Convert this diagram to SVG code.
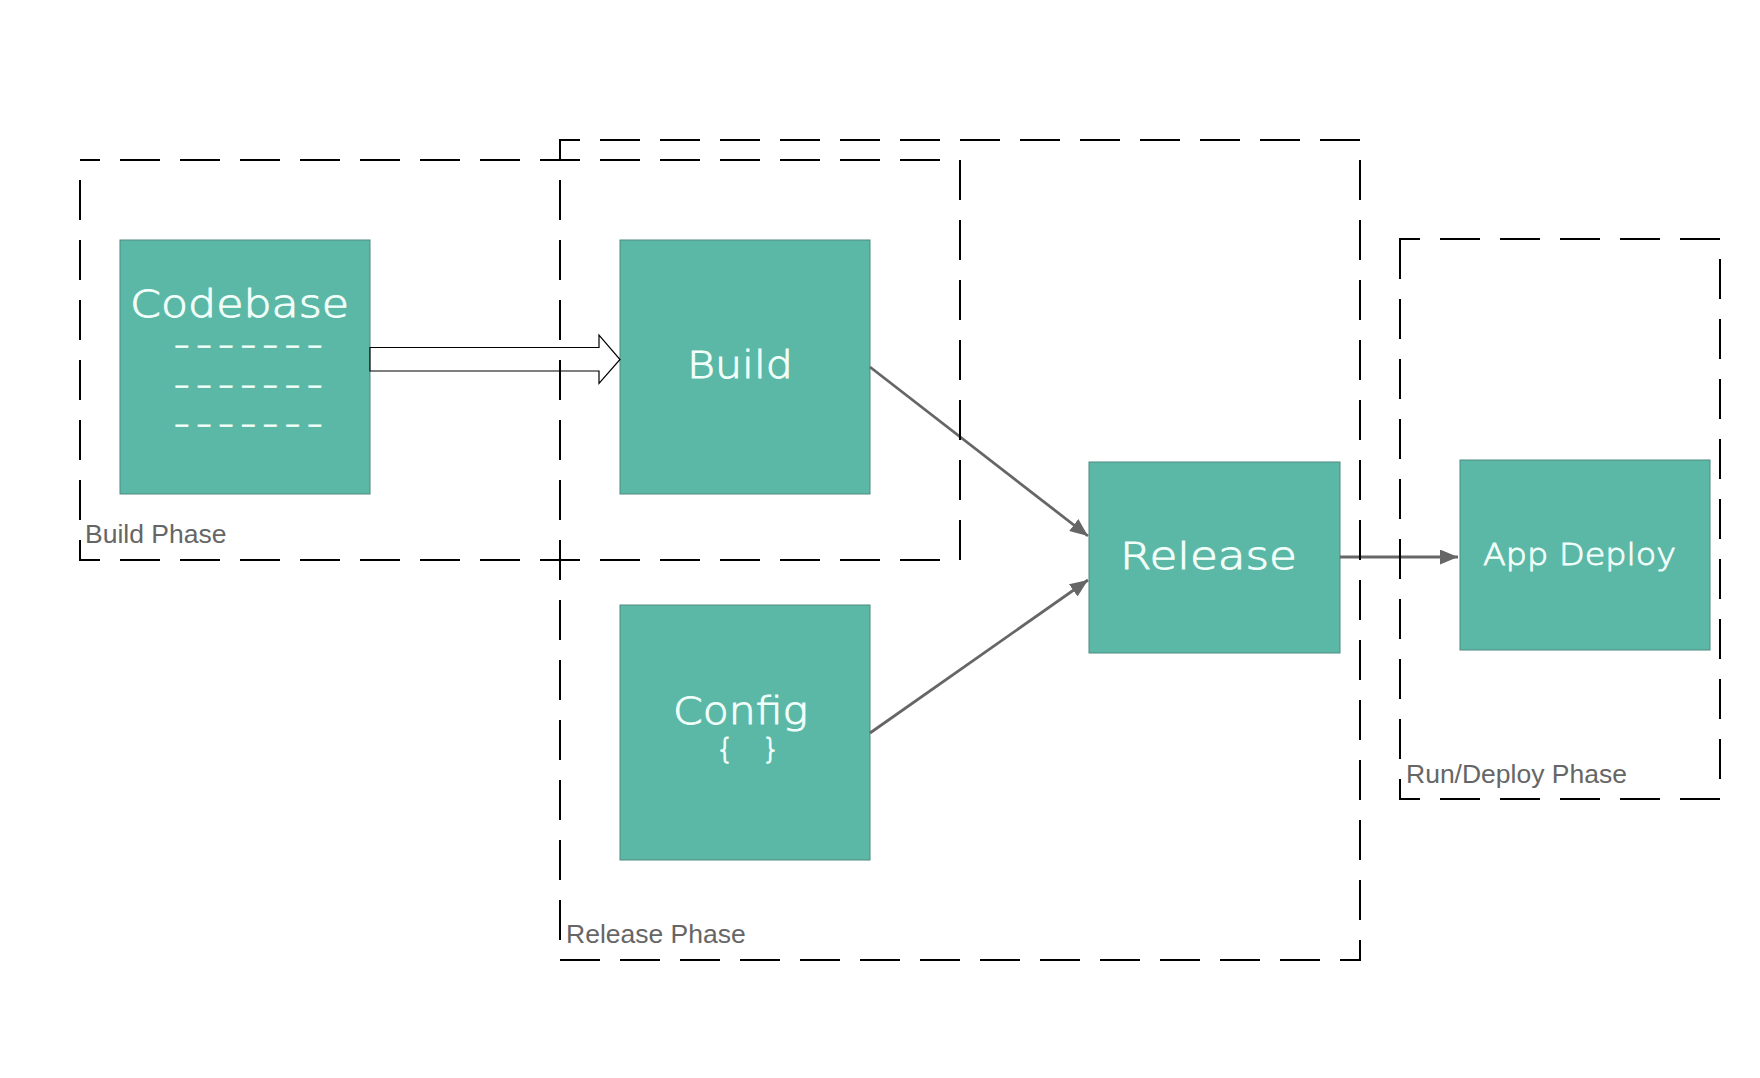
<svg xmlns="http://www.w3.org/2000/svg" width="1760" height="1078" viewBox="0 0 1760 1078">
  <style>
    .node { fill: #5cb8a6; stroke: #4e8a80; stroke-width: 1; }
    .ntext { font-family: "DejaVu Sans", "Liberation Sans", sans-serif; fill: #f2fffa; stroke: #f2fffa; stroke-width: 0.9; font-weight: 200; }
    .dash { stroke-width: 1.1; font-size: 32px; }
    .phase { fill: none; stroke: #000; stroke-width: 2; stroke-dasharray: 40 20; stroke-dashoffset: 20; }
    .plabel { font-family: "Liberation Sans", Arial, sans-serif; font-size: 26.5px; fill: #666; }
    .conn { stroke: #666; stroke-width: 2.8; fill: none; }
  </style>
  <defs>
    <marker id="arr" markerUnits="userSpaceOnUse" markerWidth="19" markerHeight="15" refX="18" refY="7.5" orient="auto">
      <path d="M0,0 L18,7.5 L0,15 z" fill="#666"/>
    </marker>
  </defs>
  <rect width="1760" height="1078" fill="#fff"/>

  <g id="node-codebase">
    <rect class="node" x="120" y="240" width="250" height="254"/>
    <text class="ntext" x="130" y="317" font-size="37" textLength="219" lengthAdjust="spacingAndGlyphs">Codebase</text>
    <text class="ntext dash" transform="translate(174,355) scale(1.35,1)" textLength="110" lengthAdjust="spacing">-------</text>
    <text class="ntext dash" transform="translate(174,395) scale(1.35,1)" textLength="110" lengthAdjust="spacing">-------</text>
    <text class="ntext dash" transform="translate(174,434) scale(1.35,1)" textLength="110" lengthAdjust="spacing">-------</text>
  </g>
  <g id="node-build">
    <rect class="node" x="620" y="240" width="250" height="254"/>
    <text class="ntext" x="687" y="378" font-size="37" textLength="106" lengthAdjust="spacingAndGlyphs">Build</text>
  </g>
  <g id="node-config">
    <rect class="node" x="620" y="605" width="250" height="255"/>
    <text class="ntext" x="673" y="724" font-size="37" textLength="135" lengthAdjust="spacingAndGlyphs">Config</text>
    <text class="ntext" x="716" y="759" font-size="28">{</text>
    <text class="ntext" x="762" y="759" font-size="28">}</text>
  </g>
  <g id="node-release">
    <rect class="node" x="1089" y="462" width="251" height="191"/>
    <text class="ntext" x="1120" y="569" font-size="38" textLength="177" lengthAdjust="spacingAndGlyphs">Release</text>
  </g>
  <g id="node-appdeploy">
    <rect class="node" x="1460" y="460" width="250" height="190"/>
    <text class="ntext" x="1483" y="565" font-size="31" textLength="193" lengthAdjust="spacingAndGlyphs">App Deploy</text>
  </g>

  <g id="connectors">
    <polygon points="370,347.5 599,347.5 599,335 620,359.5 599,383.5 599,371 370,371" fill="#fff" stroke="#000" stroke-width="1.2"/>
    <line class="conn" x1="870" y1="367" x2="1088" y2="536" marker-end="url(#arr)"/>
    <line class="conn" x1="870" y1="733" x2="1088" y2="580" marker-end="url(#arr)"/>
    <line class="conn" x1="1340" y1="557" x2="1458" y2="557" marker-end="url(#arr)"/>
  </g>

  <g id="group-build-phase">
    <rect class="phase" x="80" y="160" width="880" height="400"/>
    <text class="plabel" x="85" y="543">Build Phase</text>
  </g>
  <g id="group-release-phase">
    <rect class="phase" x="560" y="140" width="800" height="820"/>
    <text class="plabel" x="566" y="943">Release Phase</text>
  </g>
  <g id="group-run-deploy-phase">
    <rect class="phase" x="1400" y="239" width="320" height="560"/>
    <text class="plabel" x="1406" y="783">Run/Deploy Phase</text>
  </g>
</svg>
